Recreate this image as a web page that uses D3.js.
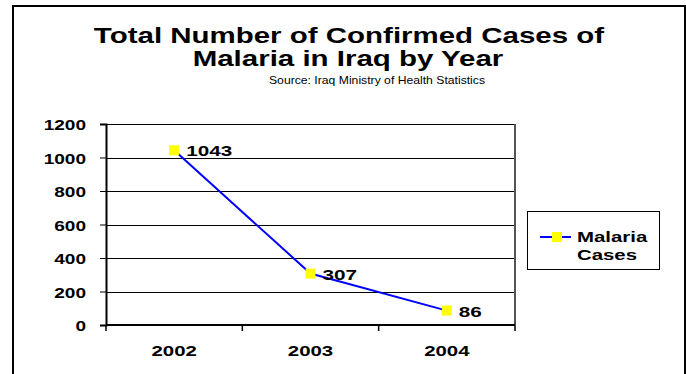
<!DOCTYPE html>
<html>
<head>
<meta charset="utf-8">
<script src="https://cdn.jsdelivr.net/npm/d3@7"></script>
<style>
  html, body { margin: 0; padding: 0; background: #fff; }
  svg { display: block; }
  text { font-family: Arial, "Liberation Sans", Helvetica, sans-serif; fill: #000; }
</style>
</head>
<body>
<svg id="chart" width="686" height="374"></svg>
<script>
// Confirmed malaria cases in Iraq, by year
const years = ["2002", "2003", "2004"];
const cases = [1043, 307, 86];
const yTicks = [0, 200, 400, 600, 800, 1000, 1200];
const titleLines = ["Total Number of Confirmed Cases of", "Malaria in Iraq by Year"];
const subtitle = "Source:  Iraq Ministry of Health Statistics";
const legendLines = ["Malaria", "Cases"];

const plot = { left: 106, right: 515, top: 124, bottom: 325 };

const svg = d3.select("#chart");

// helper: text placed at (x, y) and widened horizontally by sx
function wideText(g, x, y, str, size, anchor, weight, sx) {
  return g.append("text")
    .attr("transform", `translate(${x},${y}) scale(${sx},1)`)
    .attr("text-anchor", anchor)
    .attr("font-size", size)
    .attr("font-weight", weight)
    .text(str);
}

// outer frame
svg.append("rect")
  .attr("x", 13).attr("y", 6)
  .attr("width", 672).attr("height", 390)
  .attr("fill", "#fff").attr("stroke", "#000").attr("stroke-width", 2);

// titles
wideText(svg, 349, 43, titleLines[0], 22, "middle", "bold", 1.34);
wideText(svg, 348, 66, titleLines[1], 22, "middle", "bold", 1.34);
wideText(svg, 377, 84, subtitle, 10, "middle", "normal", 1.22);

const x = d3.scaleBand().domain(years).range([plot.left, plot.right]);
const y = d3.scaleLinear().domain([0, 1200]).range([plot.bottom, plot.top]);

// gridlines
svg.append("g")
  .selectAll("line")
  .data(yTicks.filter(d => d > 0))
  .join("line")
  .attr("x1", plot.left).attr("x2", plot.right)
  .attr("y1", d => Math.round(y(d)) + 0.5).attr("y2", d => Math.round(y(d)) + 0.5)
  .attr("stroke", "#000").attr("stroke-width", 1);

// right edge of plot area
svg.append("line")
  .attr("x1", plot.right).attr("x2", plot.right)
  .attr("y1", plot.top).attr("y2", plot.bottom)
  .attr("stroke", "#555").attr("stroke-width", 2);

// y axis
const yAxis = svg.append("g")
  .attr("transform", `translate(${plot.left},0)`)
  .call(d3.axisLeft(y).tickValues(yTicks).tickSize(6).tickFormat(d3.format("d")));
yAxis.select(".domain").attr("stroke", "#000").attr("stroke-width", 2);
yAxis.selectAll(".tick line").attr("stroke", "#000");
yAxis.selectAll(".tick text").remove();
yAxis.selectAll(".tick").each(function(d) {
  wideText(d3.select(this), -20, 5.5, d3.format("d")(d), 15, "end", "bold", 1.27);
});

// x axis with ticks at category boundaries
const xAxis = svg.append("g")
  .attr("transform", `translate(0,${plot.bottom})`);
xAxis.append("line")
  .attr("x1", plot.left).attr("x2", plot.right)
  .attr("y1", 0).attr("y2", 0)
  .attr("stroke", "#000").attr("stroke-width", 2);
const bounds = years.map(d => x(d)).concat([x(years[years.length - 1]) + x.bandwidth()]);
xAxis.selectAll("line.tk")
  .data(bounds)
  .join("line").attr("class", "tk")
  .attr("x1", d => d).attr("x2", d => d)
  .attr("y1", 0).attr("y2", 6)
  .attr("stroke", "#000").attr("stroke-width", 1.5);
years.forEach(d => {
  wideText(xAxis, x(d) + x.bandwidth() / 2, 31, d, 15, "middle", "bold", 1.36);
});

// series line
const cx = d => x(d) + x.bandwidth() / 2;
svg.append("path")
  .datum(years.map((d, i) => [cx(d), y(cases[i])]))
  .attr("d", d3.line())
  .attr("fill", "none")
  .attr("stroke", "#0000ff")
  .attr("stroke-width", 2);

// markers
svg.append("g")
  .selectAll("rect")
  .data(years)
  .join("rect")
  .attr("x", (d) => cx(d) - 5)
  .attr("y", (d, i) => y(cases[i]) - 5)
  .attr("width", 10).attr("height", 10)
  .attr("fill", "#ffff00");

// value labels
years.forEach((d, i) => {
  wideText(svg, cx(d) + 12, y(cases[i]) + 6, String(cases[i]), 15, "start", "bold", 1.38);
});

// legend
const lg = svg.append("g");
lg.append("rect")
  .attr("x", 527.5).attr("y", 211.5).attr("width", 132).attr("height", 58)
  .attr("fill", "#fff").attr("stroke", "#000").attr("stroke-width", 1);
lg.append("line")
  .attr("x1", 540).attr("x2", 571).attr("y1", 237).attr("y2", 237)
  .attr("stroke", "#0000ff").attr("stroke-width", 2);
lg.append("rect")
  .attr("x", 552).attr("y", 232).attr("width", 10).attr("height", 10)
  .attr("fill", "#ffff00");
wideText(lg, 577, 242, legendLines[0], 15, "start", "bold", 1.36);
wideText(lg, 607, 260, legendLines[1], 15, "middle", "bold", 1.36);
</script>
</body>
</html>
